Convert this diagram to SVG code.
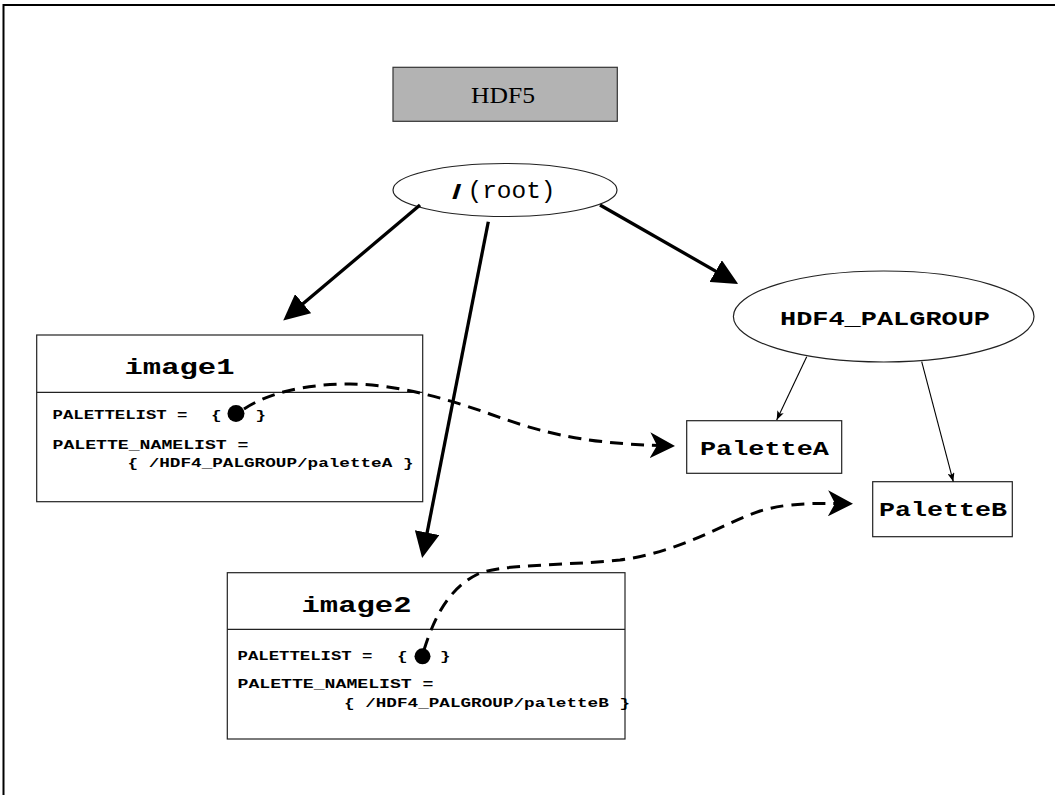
<svg xmlns="http://www.w3.org/2000/svg" width="1055" height="795" viewBox="0 0 1055 795">
<style>
.box{fill:#fff;stroke:#222;stroke-width:1.2}
.div{stroke:#222;stroke-width:1.2}
.mono{font-family:"Liberation Mono","Courier New",monospace;font-weight:bold;fill:#000}
.small{font-size:13px}
.title{font-size:22.5px}
.mid{font-size:21px}
.thick{fill:none;stroke:#000;stroke-width:3.3}
.thin{fill:none;stroke:#000;stroke-width:1.1}
.dash{fill:none;stroke:#000;stroke-width:3;stroke-dasharray:13 8}
</style>
<defs>
<marker id="big" viewBox="0 0 26 25" refX="8" refY="12.5" markerWidth="26" markerHeight="25" markerUnits="userSpaceOnUse" orient="auto">
<path d="M0,0 L26,12.5 L0,25 z" fill="#000"/>
</marker>
<marker id="barb" viewBox="0 0 25 26" refX="10" refY="13" markerWidth="25" markerHeight="26" markerUnits="userSpaceOnUse" orient="auto">
<path d="M0,0 L25,13 L0,26 L7,13 z" fill="#000"/>
</marker>
<marker id="small" viewBox="0 0 9 7" refX="9" refY="3.5" markerWidth="9" markerHeight="7" markerUnits="userSpaceOnUse" orient="auto">
<path d="M0,0 L9,3.5 L0,7 L2,3.5 z" fill="#000"/>
</marker>
</defs>
<rect width="1055" height="795" fill="#fff"/>
<path d="M3.5,795 V5 H1055" fill="none" stroke="#000" stroke-width="2"/>

<g id="hdf5">
<rect x="393" y="67.3" width="224.3" height="54" fill="#b3b3b3" stroke="#333" stroke-width="1.2"/>
<text x="471" y="103.3" font-family="Liberation Serif,'Times New Roman',serif" font-size="22.5" textLength="64" lengthAdjust="spacingAndGlyphs">HDF5</text>
</g>

<g id="root">
<ellipse cx="505" cy="190" rx="112" ry="26.5" fill="#fff" stroke="#222" stroke-width="1.2"/>
<text x="452" y="199" font-family="Liberation Sans,Arial,sans-serif" font-weight="bold" font-size="20" textLength="9.5" lengthAdjust="spacingAndGlyphs">/</text>
<text x="467.5" y="197.7" font-family="Liberation Mono,'Courier New',monospace" font-size="23" textLength="88" lengthAdjust="spacingAndGlyphs">(root)</text>
</g>

<g id="palgroup">
<ellipse cx="883.7" cy="316.5" rx="150.3" ry="45.5" fill="#fff" stroke="#222" stroke-width="1.2"/>
<text x="780" y="325" class="mono mid" textLength="210" lengthAdjust="spacingAndGlyphs">HDF4_PALGROUP</text>
</g>

<g id="image1">
<rect class="box" x="36.7" y="335" width="386" height="166.7"/>
<line class="div" x1="36.7" y1="392.3" x2="422.7" y2="392.3"/>
<text x="124.5" y="374" class="mono title" textLength="110" lengthAdjust="spacingAndGlyphs">image1</text>
<text x="52.5" y="419" class="mono small" textLength="135" lengthAdjust="spacingAndGlyphs">PALETTELIST =</text>
<text x="211" y="419" class="mono small" textLength="10.6" lengthAdjust="spacingAndGlyphs">{</text>
<text x="255.5" y="419" class="mono small" textLength="10.6" lengthAdjust="spacingAndGlyphs">}</text>
<text x="52.5" y="449" class="mono small" textLength="196" lengthAdjust="spacingAndGlyphs">PALETTE_NAMELIST =</text>
<text x="127.5" y="467" class="mono small" textLength="286" lengthAdjust="spacingAndGlyphs">{ /HDF4_PALGROUP/paletteA }</text>
<circle cx="236" cy="413.5" r="8.5" fill="#000"/>
</g>

<g id="image2">
<rect class="box" x="227.3" y="572.7" width="397.7" height="166.3"/>
<line class="div" x1="227.3" y1="629.3" x2="625" y2="629.3"/>
<text x="301.5" y="612.3" class="mono title" textLength="110" lengthAdjust="spacingAndGlyphs">image2</text>
<text x="237.5" y="660" class="mono small" textLength="135" lengthAdjust="spacingAndGlyphs">PALETTELIST =</text>
<text x="397" y="660" class="mono small" textLength="10.6" lengthAdjust="spacingAndGlyphs">{</text>
<text x="440" y="660" class="mono small" textLength="10.6" lengthAdjust="spacingAndGlyphs">}</text>
<text x="237.5" y="688" class="mono small" textLength="196" lengthAdjust="spacingAndGlyphs">PALETTE_NAMELIST =</text>
<text x="344" y="706.5" class="mono small" textLength="286" lengthAdjust="spacingAndGlyphs">{ /HDF4_PALGROUP/paletteB }</text>
<circle cx="422.5" cy="656.3" r="8" fill="#000"/>
</g>

<g id="paletteA">
<rect class="box" x="686.7" y="420.7" width="155" height="52.6"/>
<text x="700" y="455" class="mono mid" textLength="129" lengthAdjust="spacingAndGlyphs">PaletteA</text>
</g>

<g id="paletteB">
<rect class="box" x="872.7" y="481.7" width="139.6" height="55"/>
<text x="879" y="516" class="mono mid" textLength="128" lengthAdjust="spacingAndGlyphs">PaletteB</text>
</g>

<g id="connectors">
<path class="thick" d="M420,205 L297,308.8" marker-end="url(#big)"/>
<path class="thick" d="M600,205 L722.6,275.1" marker-end="url(#big)"/>
<path class="thick" d="M488.3,221.7 L425.6,540.4" marker-end="url(#big)"/>
<path class="thin" d="M806.7,356.7 L776.7,420" marker-end="url(#small)"/>
<path class="thin" d="M921.7,361.7 L953.3,481.7" marker-end="url(#small)"/>
<path class="dash" d="M244,409 C268,393 305,384 350,384 C395,384 445,398 490,414 C535,430 575,443 660,445.5" marker-end="url(#barb)"/>
<path class="dash" d="M424,650 C432,625 445,590 478,574 C500,564 560,566 620,560 C680,552 720,525 760,511 C780,505 800,503 838,503.5" marker-end="url(#barb)"/>
</g>
</svg>
